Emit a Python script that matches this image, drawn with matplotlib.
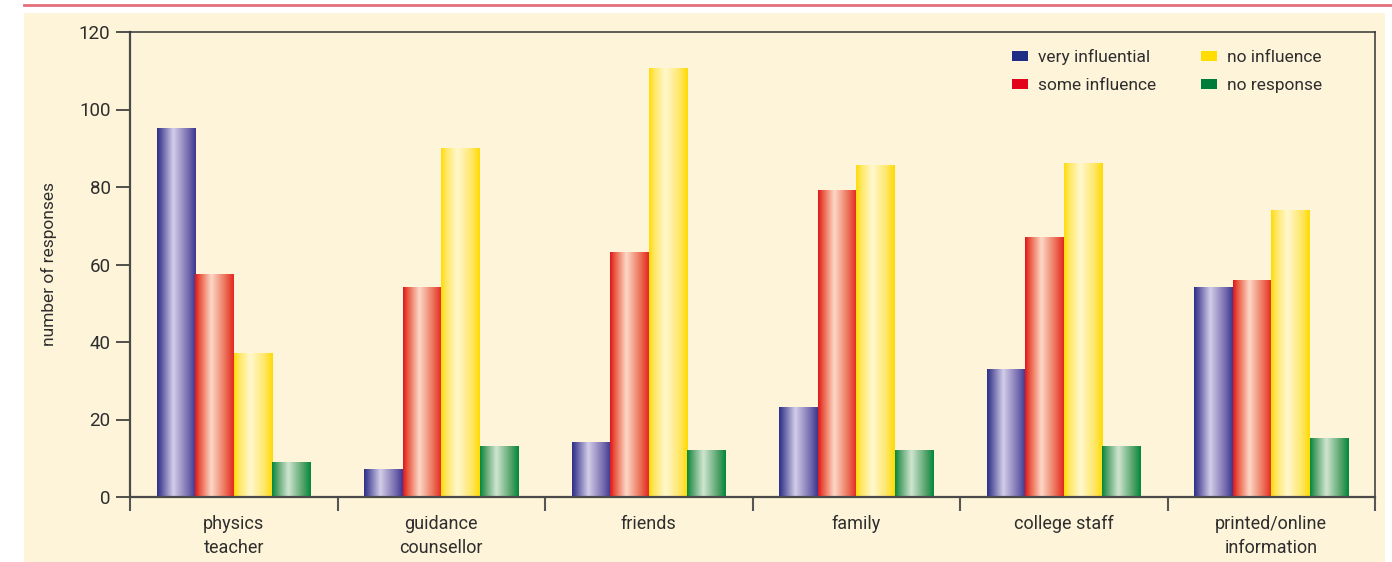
import numpy as np
import matplotlib
matplotlib.use("Agg")
import matplotlib.pyplot as plt
from matplotlib.colors import LinearSegmentedColormap
from matplotlib.patches import Patch, Rectangle
from matplotlib.lines import Line2D

plt.rcParams['font.family'] = ['Roboto', 'DejaVu Sans']

categories = ["physics\nteacher", "guidance\ncounsellor", "friends", "family",
              "college staff", "printed/online\ninformation"]
series_names = ["very influential", "some influence", "no influence", "no response"]
very_influential = [95, 7, 14, 23, 33, 54]
some_influence = [57.5, 54, 63, 79, 67, 56]
no_influence = [37, 90, 110.5, 85.5, 86, 74]
no_response = [9, 13, 12, 12, 13, 15]
series_values = [very_influential, some_influence, no_influence, no_response]
y_ticks = [0, 20, 40, 60, 80, 100, 120]

solid_colors = ["#1f2d84", "#e3001b", "#ffdd00", "#007c3a"]
gradient_stops = [
    ["#2b2f86", "#5b57a1", "#d3cee9", "#7d72b2", "#3b3690"],
    ["#e0131d", "#e9573f", "#fdd9c7", "#ec7058", "#e4261f"],
    ["#ffdb00", "#ffe65a", "#fff8d0", "#ffe76a", "#ffdb00"],
    ["#00883d", "#4c9e64", "#d0e6d0", "#5aa56e", "#00883d"],
]
stop_pos = [0.0, 0.12, 0.42, 0.78, 1.0]
text_color = "#2e2e2e"

fig = plt.figure(figsize=(13.92, 5.62), dpi=100)
fig.patch.set_facecolor("white")
# cream panel and pink rule behind the axes
panel = Rectangle((24 / 1392, 0), (1385 - 24) / 1392, (562 - 13) / 562,
                  transform=fig.transFigure, facecolor="#fef4d9",
                  edgecolor="none", zorder=-10)
fig.add_artist(panel)
rule = Line2D([24 / 1392, 1.0], [1 - 5 / 562, 1 - 5 / 562],
              transform=fig.transFigure, color="#e46f7c", lw=2, zorder=-10)
fig.add_artist(rule)

ax = fig.add_axes([130 / 1392, 65 / 562, 1245 / 1392, 465 / 562])
ax.set_zorder(5)
ax.patch.set_alpha(0)

n_groups = len(categories)
n_series = len(series_values)
bar_w = 0.186
grad = np.linspace(0, 1, 256).reshape(1, -1)

for s, vals in enumerate(series_values):
    cmap = LinearSegmentedColormap.from_list(
        f"g{s}", list(zip(stop_pos, gradient_stops[s])))
    for g, v in enumerate(vals):
        center = g + 0.5
        x0 = center + (s - n_series / 2) * bar_w
        ax.imshow(grad, cmap=cmap, extent=[x0, x0 + bar_w, 0, v],
                  aspect="auto", interpolation="bicubic", zorder=2)

ax.set_xlim(0, n_groups)
ax.set_ylim(0, 120)

# group separators as downward ticks, labels at group centres
ax.set_xticks(np.arange(0, n_groups + 1))
ax.set_xticklabels([])
ax.set_xticks(np.arange(n_groups) + 0.5, minor=True)
ax.set_xticklabels(categories, minor=True, fontsize=13, color=text_color,
                   linespacing=1.45)
ax.tick_params(axis="x", which="major", direction="out", length=10, width=1.5,
               color="#555555")
ax.tick_params(axis="x", which="minor", length=0, pad=13)

ax.set_yticks(y_ticks)
ax.set_yticklabels([str(t) for t in y_ticks], fontsize=13.5, color=text_color)
ax.tick_params(axis="y", direction="out", length=10, width=1.2, color="#333333", pad=4)

for side in ["left", "bottom"]:
    ax.spines[side].set_color("#4a4a4a")
    ax.spines[side].set_linewidth(1.6)
for side in ["top", "right"]:
    ax.spines[side].set_color("#333333")
    ax.spines[side].set_linewidth(1.1)
ax.spines["bottom"].set_zorder(3)

ax.set_ylabel("number of responses", fontsize=12.5, color=text_color, labelpad=16)

handles = [Patch(facecolor=c, edgecolor="none") for c in solid_colors]
leg = ax.legend(handles, series_names, ncol=2, loc="upper right",
                bbox_to_anchor=(0.97, 0.997), frameon=False, fontsize=12.5,
                handlelength=0.95, handleheight=0.5, handletextpad=0.55,
                columnspacing=2.6, labelspacing=0.75)
for t in leg.get_texts():
    t.set_color(text_color)

fig.savefig("out.png", dpi=100, facecolor=fig.get_facecolor())
